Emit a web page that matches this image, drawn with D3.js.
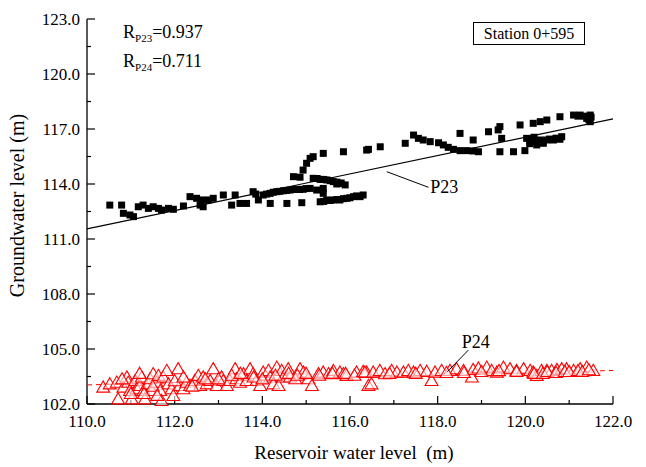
<!DOCTYPE html>
<html><head><meta charset="utf-8">
<script src="https://cdn.jsdelivr.net/npm/d3@7"></script>
<style>body{margin:0;background:#fff}svg{display:block}text{font-family:"Liberation Serif","Times New Roman",serif;fill:#000}</style>
</head><body><svg id="c" width="646" height="467"></svg>
<script>
// P23 (squares) reservoir level vs groundwater level
const p23X = [110.52,110.79,110.83,110.98,111.06,111.17,111.28,111.40,111.51,111.63,111.70,111.86,111.97,112.20,112.35,112.50,112.62,112.77,112.88,112.65,112.58,113.11,113.38,113.30,113.49,113.64,113.79,113.91,114.02,114.18,114.33,114.48,114.63,114.78,114.93,115.09,114.18,114.56,114.90,115.32,115.47,115.62,115.77,115.93,116.08,116.23,116.30,114.71,114.86,114.93,115.01,115.09,115.16,115.39,115.85,116.42,115.16,115.32,115.47,115.62,115.77,115.89,115.24,115.39,115.39,115.70,
 116.38,116.69,117.26,117.45,117.56,117.67,117.83,118.02,118.13,118.24,118.36,118.51,118.66,118.81,118.93,118.51,118.81,119.16,119.42,119.38,119.46,119.42,119.73,119.99,119.88,120.18,120.34,120.49,120.79,121.10,121.25,121.48,121.48,121.40,120.03,120.18,120.34,120.49,120.64,120.79,120.83,120.10,120.26,120.41,
 113.85,114.10,114.25,114.40,114.55,114.70,114.85,115.00,115.40,115.55,115.70,115.85,116.00,116.15,115.25,115.40,115.55,115.70,115.80,120.10,120.25,120.40,120.55,120.70,120.20,121.20,121.35,121.50,121.45];
const p23Y = [112.85,112.85,112.40,112.31,112.22,112.76,112.85,112.67,112.76,112.67,112.58,112.67,112.62,112.80,113.31,113.22,113.13,113.13,113.22,112.76,112.85,113.40,113.40,112.85,112.94,112.94,113.58,113.13,113.40,113.49,113.58,113.63,113.67,113.71,113.71,113.76,112.94,112.94,112.98,113.03,113.13,113.13,113.13,113.22,113.31,113.31,113.40,114.40,114.37,114.76,115.13,115.40,115.49,115.67,115.76,115.89,114.31,114.25,114.22,114.13,114.04,113.95,113.67,113.76,113.49,114.00,
 115.85,116.03,116.22,116.67,116.49,116.40,116.31,116.25,116.13,116.00,115.89,115.82,115.82,115.80,115.76,116.76,116.40,116.85,117.13,116.95,116.49,115.76,115.76,115.82,117.22,117.31,117.40,117.49,117.67,117.76,117.76,117.76,117.40,117.58,116.49,116.49,116.40,116.40,116.40,116.44,116.58,116.20,116.13,116.22,
 113.45,113.45,113.55,113.60,113.65,113.70,113.70,113.75,113.05,113.10,113.15,113.20,113.25,113.35,114.30,114.25,114.18,114.10,114.05,116.35,116.30,116.30,116.45,116.50,116.55,117.70,117.70,117.65,117.50];

// P24 (open triangles)
const p24X = [110.37,110.52,110.68,110.71,110.83,110.91,110.94,110.98,111.02,111.10,111.13,111.21,111.25,111.29,111.32,111.40,111.44,111.48,111.51,111.59,111.63,111.67,111.70,111.74,111.82,111.86,111.93,111.97,112.08,112.12,112.20,112.27,112.35,112.46,112.54,112.58,112.65,112.73,112.81,112.88,112.96,113.07,113.11,113.19,113.26,113.38,113.41,113.49,113.57,113.64,113.72,113.79,113.87,113.95,114.02,114.14,114.18,114.25,114.33,114.37,114.44,114.48,114.59,114.63,114.75,114.86,114.94,115.05,115.13,115.28,115.39,115.51,115.62,115.77,115.85,115.92,116.15,116.38,116.42,
 110.80,111.00,111.20,111.50,111.60,111.30,112.00,112.20,112.40,112.70,113.00,113.30,113.50,113.80,114.00,114.30,114.60,114.80,115.00,115.30,115.60,115.90,116.10,116.30,
 116.34,116.49,116.53,116.68,116.80,116.95,117.07,117.22,117.33,117.45,117.60,117.75,117.86,117.94,118.09,118.28,118.43,118.59,118.78,118.81,118.93,119.12,119.23,119.35,119.50,119.65,119.80,119.96,120.11,120.18,120.26,120.37,120.49,120.60,120.72,120.83,120.94,121.10,121.25,121.40,121.55,
 120.20,120.40,120.50,120.70,120.90,121.00,121.20,121.30,121.45,116.90,117.50,118.20,118.60,119.00,119.40,119.80];
const p24Y = [102.85,103.03,103.12,102.21,102.85,103.40,103.12,102.67,102.21,103.21,102.76,102.94,103.40,102.67,102.21,103.03,103.31,102.67,103.58,103.12,103.49,102.67,102.12,103.40,103.76,103.03,102.76,102.39,103.85,102.94,102.76,103.12,102.94,103.21,103.49,102.94,103.40,103.03,103.21,103.85,102.94,103.40,103.21,102.94,103.21,103.85,103.31,103.12,103.58,103.21,103.85,103.58,103.21,102.94,103.67,103.76,103.40,103.03,103.94,102.94,103.76,103.40,103.85,103.40,103.31,103.85,103.67,103.31,102.94,103.58,103.67,103.58,103.76,103.67,103.58,103.49,103.67,103.67,102.94,
 103.30,102.50,103.60,102.90,102.40,102.50,103.20,103.40,102.90,103.30,103.30,103.50,103.60,103.40,103.30,103.50,103.60,103.50,103.60,103.50,103.60,103.60,103.50,103.70,
 103.67,103.03,103.67,103.76,103.58,103.76,103.67,103.67,103.76,103.67,103.76,103.71,103.21,103.67,103.76,103.76,103.85,103.76,103.40,103.81,103.89,103.94,103.76,103.67,103.94,103.85,103.76,103.85,103.76,103.67,103.49,103.76,103.76,103.76,103.81,103.85,103.85,103.76,103.85,103.94,103.76,
 103.60,103.60,103.70,103.65,103.70,103.70,103.75,103.70,103.80,103.60,103.60,103.65,103.65,103.70,103.75,103.70];

// linear fits
const fitP23 = [[110,111.55],[122,117.55]];
const fitP24 = [[110,103.04],[122,103.83]];
const fitP24Solid = [110.37,121.55];

const xMajor = [110,112,114,116,118,120,122];
const xMinor = [111,113,115,117,119,121];
const yMajor = [102,105,108,111,114,117,120,123];
const yMinor = [103.5,106.5,109.5,112.5,115.5,118.5,121.5];

const svg = d3.select("#c");
const x = d3.scaleLinear().domain([110,122]).range([87,613]);
const y = d3.scaleLinear().domain([102,123]).range([404,19]);
const fmt = d3.format(".1f");

// axes
const g = svg.append("g");
g.append("line").attr("x1",x(110)).attr("x2",x(122)).attr("y1",y(102)).attr("y2",y(102)).attr("stroke","#000").attr("stroke-width",1.3);
g.append("line").attr("x1",x(110)).attr("x2",x(110)).attr("y1",y(102)).attr("y2",y(123)).attr("stroke","#000").attr("stroke-width",1.3);
xMajor.forEach(v=>{
  g.append("line").attr("x1",x(v)).attr("x2",x(v)).attr("y1",y(102)).attr("y2",y(102)-8).attr("stroke","#000").attr("stroke-width",1.2);
  g.append("text").attr("x",x(v)).attr("y",y(102)+23).attr("text-anchor","middle").attr("font-size",17).text(fmt(v));
});
xMinor.forEach(v=>{
  g.append("line").attr("x1",x(v)).attr("x2",x(v)).attr("y1",y(102)).attr("y2",y(102)-4).attr("stroke","#000").attr("stroke-width",1.2);
});
yMajor.forEach(v=>{
  g.append("line").attr("x1",x(110)).attr("x2",x(110)+8).attr("y1",y(v)).attr("y2",y(v)).attr("stroke","#000").attr("stroke-width",1.2);
  g.append("text").attr("x",x(110)-7).attr("y",y(v)+6).attr("text-anchor","end").attr("font-size",17).text(fmt(v));
});
yMinor.forEach(v=>{
  g.append("line").attr("x1",x(110)).attr("x2",x(110)+4).attr("y1",y(v)).attr("y2",y(v)).attr("stroke","#000").attr("stroke-width",1.2);
});

// axis titles
svg.append("text").attr("x",(x(110)+x(122))/2+4).attr("y",459).attr("text-anchor","middle").attr("font-size",19).attr("xml:space","preserve").text("Reservoir water level  (m)");
svg.append("text").attr("transform",`translate(24,${(y(102)+y(123))/2-6}) rotate(-90)`).attr("text-anchor","middle").attr("font-size",20).text("Groundwater level (m)");

// P24 fit line: dashed full, solid within data range
const lineP24 = d3.line().x(d=>x(d[0])).y(d=>y(d[1]));
svg.append("path").attr("d",lineP24(fitP24)).attr("stroke","#ff0000").attr("stroke-width",1).attr("stroke-dasharray","5,4").attr("fill","none");
const f24 = v => fitP24[0][1] + (fitP24[1][1]-fitP24[0][1])*(v-fitP24[0][0])/(fitP24[1][0]-fitP24[0][0]);
svg.append("path").attr("d",lineP24(fitP24Solid.map(v=>[v,f24(v)]))).attr("stroke","#ff0000").attr("stroke-width",1).attr("fill","none");

// P24 triangles
const tri = d3.symbol().type(d3.symbolTriangle).size(72);
svg.append("g").selectAll("path").data(p24X.map((v,i)=>[v,p24Y[i]])).join("path")
  .attr("d",tri).attr("transform",d=>`translate(${x(d[0])},${y(d[1])})`)
  .attr("fill","#fff").attr("fill-opacity",0.6).attr("stroke","#ff0000").attr("stroke-width",1.1);

// P23 squares
const sq = 7;
svg.append("g").selectAll("rect").data(p23X.map((v,i)=>[v,p23Y[i]])).join("rect")
  .attr("x",d=>x(d[0])-sq/2).attr("y",d=>y(d[1])-sq/2).attr("width",sq).attr("height",sq).attr("fill","#000");

// P23 fit line
svg.append("path").attr("d",d3.line().x(d=>x(d[0])).y(d=>y(d[1]))(fitP23)).attr("stroke","#000").attr("stroke-width",1.2).attr("fill","none");

// labels with leaders
svg.append("line").attr("x1",x(116.84)).attr("y1",y(114.67)).attr("x2",x(117.79)).attr("y2",y(113.82)).attr("stroke","#000").attr("stroke-width",1);
svg.append("text").attr("x",x(117.83)).attr("y",y(113.51)).attr("font-size",18).text("P23");
svg.append("line").attr("x1",x(118.70)).attr("y1",y(104.94)).attr("x2",x(118.22)).attr("y2",y(103.76)).attr("stroke","#000").attr("stroke-width",1);
svg.append("text").attr("x",x(118.55)).attr("y",y(105.05)).attr("font-size",18).text("P24");

// correlation annotation
const r1 = svg.append("text").attr("x",123).attr("y",38).attr("font-size",18);
r1.append("tspan").text("R");
r1.append("tspan").attr("font-size",11).attr("dy",4).text("P23");
r1.append("tspan").attr("dy",-4).text("=0.937");
const r2 = svg.append("text").attr("x",123).attr("y",67).attr("font-size",18);
r2.append("tspan").text("R");
r2.append("tspan").attr("font-size",11).attr("dy",4).text("P24");
r2.append("tspan").attr("dy",-4).text("=0.711");

// station box
svg.append("rect").attr("x",473.5).attr("y",22.5).attr("width",111).attr("height",22).attr("fill","none").attr("stroke","#000").attr("stroke-width",1);
svg.append("text").attr("x",529).attr("y",39).attr("text-anchor","middle").attr("font-size",16).text("Station 0+595");
</script></body></html>
